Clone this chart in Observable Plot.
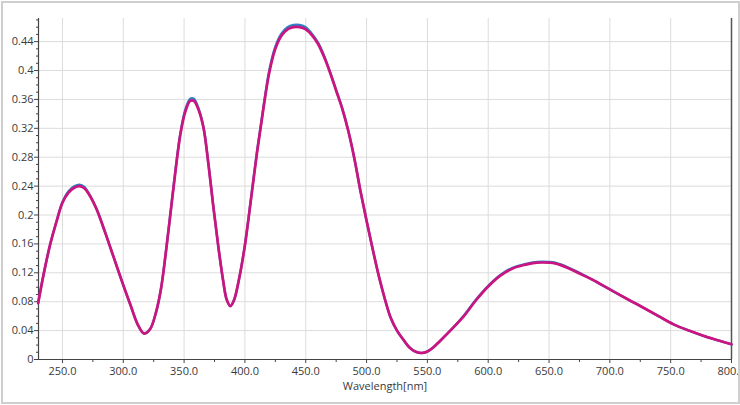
<!DOCTYPE html>
<html>
<head>
<meta charset="utf-8">
<script src="https://cdn.jsdelivr.net/npm/d3@7"></script>
<script src="https://cdn.jsdelivr.net/npm/@observablehq/plot@0.6"></script>
<style>
  html, body { margin: 0; padding: 0; background: #fff; }
  #wrap { position: relative; width: 740px; height: 405px; }
  #border { position: absolute; left: 1px; top: 1px; width: 735px; height: 399px; border: 2px solid #cfcfcf; pointer-events: none; }
</style>
</head>
<body>
<div id="wrap"><div id="border"></div></div>
<script>
// Wavelength samples (nm)
const wavelength = [230,235,240,245,250,255,260,264,268,272,278,285,292,300,306,312,317,322,327,331,335,339,343,347,351,355,358,362,366,370,374,378,382,385,388,391,395,400,405,410,415,420,425,430,435,440,445,450,455,460,465,470,475,480,485,490,495,500,505,510,515,520,525,530,535,540,545,550,555,560,570,580,590,600,610,620,630,640,650,655,665,675,685,700,715,725,740,752,765,780,790,800];
// Magenta series (front)
const seriesMagenta = [0.078,0.122,0.160,0.190,0.217,0.231,0.238,0.240,0.237,0.228,0.208,0.176,0.142,0.103,0.075,0.048,0.036,0.042,0.066,0.098,0.148,0.205,0.262,0.312,0.343,0.358,0.358,0.345,0.320,0.270,0.212,0.158,0.110,0.083,0.074,0.082,0.110,0.158,0.222,0.287,0.345,0.397,0.430,0.448,0.457,0.460,0.460,0.457,0.449,0.437,0.419,0.397,0.372,0.347,0.316,0.278,0.233,0.192,0.153,0.116,0.084,0.057,0.040,0.028,0.017,0.011,0.009,0.011,0.017,0.025,0.042,0.060,0.082,0.101,0.116,0.126,0.131,0.134,0.134,0.133,0.127,0.119,0.111,0.097,0.083,0.074,0.060,0.049,0.040,0.031,0.026,0.021];
// Blue series (behind)
const seriesBlue = [0.078,0.122,0.160,0.191,0.218,0.233,0.240,0.242,0.239,0.229,0.209,0.177,0.142,0.103,0.075,0.048,0.036,0.042,0.066,0.098,0.149,0.206,0.264,0.314,0.346,0.361,0.361,0.347,0.321,0.271,0.212,0.158,0.110,0.083,0.074,0.082,0.110,0.159,0.223,0.289,0.347,0.400,0.433,0.451,0.460,0.463,0.463,0.460,0.451,0.439,0.421,0.398,0.373,0.348,0.317,0.278,0.233,0.192,0.153,0.116,0.084,0.057,0.040,0.028,0.017,0.011,0.009,0.011,0.017,0.025,0.042,0.061,0.083,0.102,0.117,0.127,0.132,0.135,0.135,0.134,0.128,0.120,0.111,0.097,0.083,0.074,0.060,0.049,0.040,0.031,0.026,0.021];
// Ticks
const xTicks = [250,300,350,400,450,500,550,600,650,700,750,800];
const xMinorTicks = [275,325,375,425,475,525,575,625,675,725,775];
const yTicks = [0,0.04,0.08,0.12,0.16,0.2,0.24,0.28,0.32,0.36,0.4,0.44];
const yMinorTicks = [0.01,0.02,0.03,0.05,0.06,0.07,0.09,0.1,0.11,0.13,0.14,0.15,0.17,0.18,0.19,0.21,0.22,0.23,0.25,0.26,0.27,0.29,0.3,0.31,0.33,0.34,0.35,0.37,0.38,0.39,0.41,0.42,0.43,0.45,0.46,0.47];
const xLabel = "Wavelength[nm]";

const magenta = wavelength.map((w, i) => ({w, v: seriesMagenta[i]}));
const blue = wavelength.map((w, i) => ({w, v: seriesBlue[i]}));

const plot = Plot.plot({
  width: 740,
  height: 405,
  marginLeft: 38,
  marginRight: 9,
  marginTop: 18,
  marginBottom: 46,
  style: {fontFamily: "'Open Sans', sans-serif", fontSize: "11px", color: "#3a3a3a", background: "transparent"},
  x: {domain: [230.3, 800]},
  y: {domain: [0, 0.472]},
  marks: [
    Plot.ruleX(xTicks.filter(d => d < 800), {stroke: "#dcdcdc", strokeWidth: 1}),
    Plot.ruleY(yTicks.filter(d => d > 0), {stroke: "#dcdcdc", strokeWidth: 1}),
    Plot.axisX(xTicks, {tickSize: 4, tickPadding: 4, tickFormat: d3.format(".1f"), label: null, stroke: "#444", fill: "#3a3a3a"}),
    Plot.axisX(xMinorTicks, {tickSize: 3, tickFormat: () => "", label: null, stroke: "#444"}),
    Plot.axisY(yTicks, {tickSize: 4, tickPadding: 1, tickFormat: d => String(+d.toFixed(2)), label: null, stroke: "#444", fill: "#3a3a3a"}),
    Plot.axisY(yMinorTicks, {tickSize: 2, tickFormat: () => "", label: null, stroke: "#444"}),
    Plot.ruleY([0], {stroke: "#444", strokeWidth: 1.2}),
    Plot.ruleX([230.3], {stroke: "#444", strokeWidth: 1.2}),
    Plot.ruleX([800], {stroke: "#555", strokeWidth: 1.5}),
    Plot.line(blue, {x: "w", y: "v", stroke: "#2f7fc4", strokeWidth: 2.4, curve: "catmull-rom"}),
    Plot.line(magenta, {x: "w", y: "v", stroke: "#cc1480", strokeWidth: 2.7, curve: "catmull-rom"}),
    Plot.text([xLabel], {frameAnchor: "bottom", dy: 30, fill: "#3a3a3a", fontSize: 11})
  ]
});
document.getElementById("wrap").prepend(plot);
</script>
</body>
</html>
